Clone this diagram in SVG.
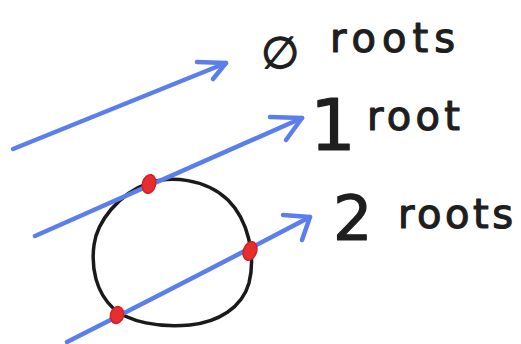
<svg xmlns="http://www.w3.org/2000/svg" width="521" height="344" viewBox="0 0 521 344">
<style>
.ray{fill:none;stroke:#5a7fec;stroke-width:4.5;stroke-linecap:round;stroke-linejoin:round}
.curve{fill:none;stroke:#1a1a1a;stroke-width:3.5;stroke-linecap:round}
.root{fill:#e62e2e;stroke:#d42020;stroke-width:1.5}
.lbl{font-family:"DejaVu Sans","Liberation Sans",sans-serif;fill:#1e1e1e;stroke:#1e1e1e;stroke-width:1.2;stroke-linejoin:round}
.word{font-size:40px}
</style>
<rect width="521" height="344" fill="#ffffff"/>
<g id="circle">
<path class="curve" d="M149 183 C170 176 205 178 228 200 C248 220 256 255 249 283 C242 308 218 322 190 325 C160 328 128 322 113 308 C96 292 91 268 94 245 C97 222 118 194 149 183 Z"/>
</g>
<g id="connectors">
<path class="ray" d="M13 149 L226 63"/>
<path class="ray" d="M197 62 L226 63 L213 79"/>
<path class="ray" d="M35 236 L302 118"/>
<path class="ray" d="M270 117 L302 118 L286 140"/>
<path class="ray" d="M67 342 Q180 285 310 217"/>
<path class="ray" d="M283 215 L310 217 L302 240"/>
</g>
<g id="roots">
<ellipse class="root" cx="149" cy="184" rx="6.5" ry="9.5" transform="rotate(15 149 184)"/>
<ellipse class="root" cx="250" cy="251" rx="6.5" ry="9.5" transform="rotate(20 250 251)"/>
<ellipse class="root" cx="117" cy="315" rx="6.5" ry="8.5" transform="rotate(15 117 315)"/>
</g>
<g id="label-zero">
<text class="lbl" x="261" y="68" font-size="44">∅</text>
<text class="lbl word" x="330" y="52" textLength="125" lengthAdjust="spacing">roots</text>
</g>
<g id="label-one">
<text class="lbl" x="310" y="150" font-size="72" stroke-width="0.6">1</text>
<text class="lbl word" x="367" y="130" textLength="93" lengthAdjust="spacing">root</text>
</g>
<g id="label-two">
<text class="lbl" x="333" y="240" font-size="62" stroke-width="0.8">2</text>
<text class="lbl word" x="398" y="228" textLength="115" lengthAdjust="spacing">roots</text>
</g>
</svg>
